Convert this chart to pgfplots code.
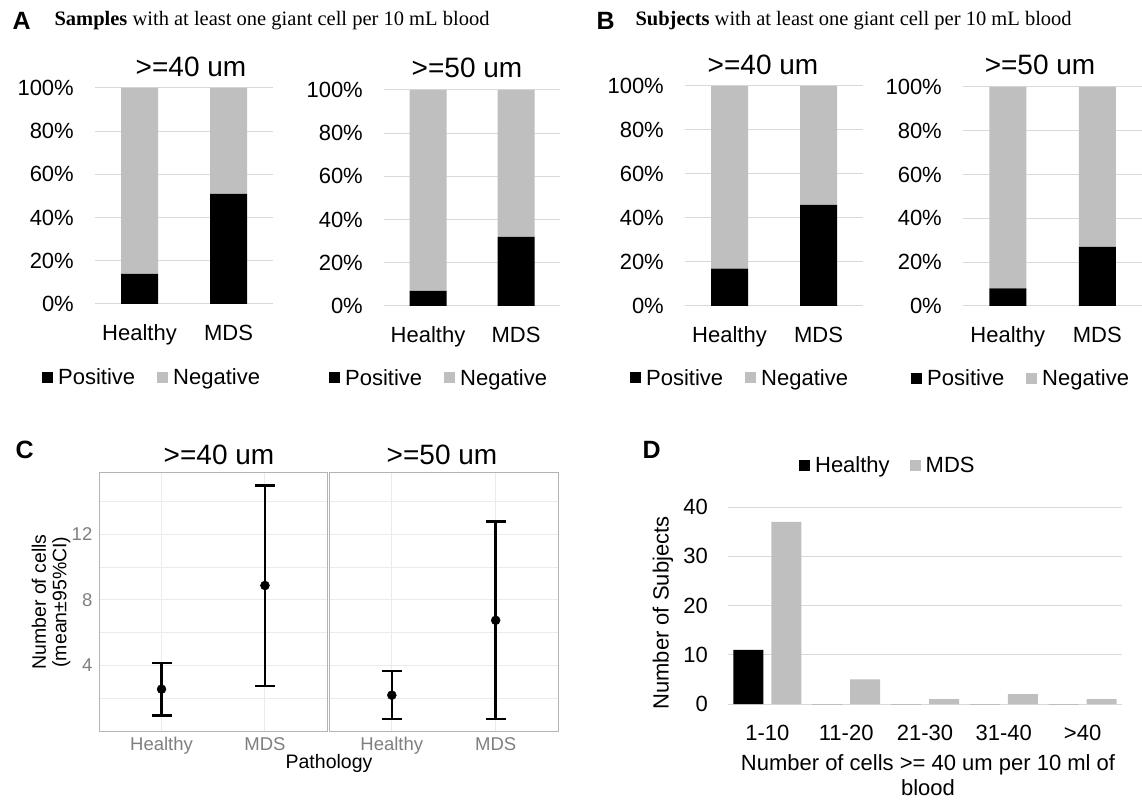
\documentclass[border=0pt]{standalone}
\usepackage{fontspec}
\setmainfont{Liberation Sans}
\newfontfamily\seriffont{Liberation Serif}
\usepackage{pgfplots}
\pgfplotsset{compat=1.18}
\definecolor{barg}{HTML}{BFBFBF}
\definecolor{gridc}{HTML}{D9D9D9}
\definecolor{ggrid}{HTML}{EBEBEB}
\definecolor{ggtext}{HTML}{7F7F7F}
\definecolor{ggborder}{HTML}{B3B3B3}
\newcommand{\fs}[1]{\fontsize{#1}{#1}\selectfont}
\pgfplotsset{
  /pgf/number format/assume math mode=true,
  xlsbar/.style={
    scale only axis, anchor=south west,
    xmin=-0.5, xmax=1.5, ymin=0, ymax=100,
    ybar stacked, bar width=37pt,
    xtick={0,1}, xticklabels={Healthy,MDS},
    ytick={0,20,40,60,80,100},
    yticklabel={\pgfmathprintnumber{\tick}\%},
    ymajorgrids, grid style={draw=gridc, line width=1pt},
    axis line style={draw=none}, major tick length=0pt,
    tick label style={font=\fs{22}, inner sep=0pt},
    yticklabel style={anchor=east, xshift=-21pt},
    xticklabel style={anchor=base, yshift=-37pt},
    legend columns=2,
    legend style={draw=none, fill=none, font=\fs{22}, anchor=west, inner sep=0pt,
      nodes={inner sep=0pt, outer sep=0pt},
      /tikz/every odd column/.append style={column sep=5pt},
      /tikz/every even column/.append style={column sep=22pt, text height=16pt, text depth=4pt}},
    legend image code/.code={\fill[##1] (0pt,-5.5pt) rectangle (11pt,5.5pt);},
  },
  ggfacet/.style={
    scale only axis, anchor=south west,
    xmin=0.4, xmax=2.6, ymin=-0.03, ymax=15.75,
    xtick={1,2}, xticklabels={Healthy,MDS},
    ytick={4,8,12}, minor ytick={2,6,10,14},
    grid=both, major grid style={draw=ggrid, line width=1pt},
    minor grid style={draw=ggrid, line width=0.6pt},
    axis line style={draw=ggborder, line width=1pt}, major tick length=0pt, minor tick length=0pt,
    tick label style={font=\fs{18.5}, text=ggtext, inner sep=0pt},
    yticklabel style={anchor=east, xshift=-7pt},
    xticklabel style={anchor=base, yshift=-19pt},
  },
  ggerr/.style={black, mark=*, mark size=4.5pt, only marks,
    mark options={fill=black, draw=black},
    error bars/.cd, y dir=both, y explicit,
    error bar style={line width=2.6pt, black},
    error mark options={rotate=90, mark size=10pt, line width=2.6pt, black}},
}
\begin{document}
\begin{tikzpicture}
\useasboundingbox (0pt,0pt) rectangle (1142pt,803pt);

% ---------- Panel A ----------
\node[anchor=west, font=\fs{25}\bfseries] at (9pt,782pt) {A};
\node[anchor=west, font=\seriffont\fs{20.5}] at (51pt,782pt) {\textbf{Samples} with at least one giant cell per 10 mL blood};
\node[font=\fs{28}] at (191pt,736pt) {>=40 um};
\node[font=\fs{28}] at (467pt,735pt) {>=50 um};

\begin{axis}[xlsbar, at={(95pt,499pt)}, width=178pt, height=216pt,
  legend style={at={(-0.298,-0.338)}}]
\addplot[fill=black, draw=none] coordinates {(0,14) (1,51)};
\addplot[fill=barg, draw=none] coordinates {(0,86) (1,49)};
\legend{Positive,Negative}
\end{axis}

\begin{axis}[xlsbar, at={(384pt,497pt)}, width=176pt, height=216pt,
  legend style={at={(-0.3125,-0.333)}}]
\addplot[fill=black, draw=none] coordinates {(0,7) (1,32)};
\addplot[fill=barg, draw=none] coordinates {(0,93) (1,68)};
\legend{Positive,Negative}
\end{axis}

% ---------- Panel B ----------
\node[anchor=west, font=\fs{25}\bfseries] at (593pt,782pt) {B};
\node[anchor=west, font=\seriffont\fs{20.5}] at (632pt,782pt) {\textbf{Subjects} with at least one giant cell per 10 mL blood};
\node[font=\fs{28}] at (763pt,738pt) {>=40 um};
\node[font=\fs{28}] at (1040pt,738pt) {>=50 um};

\begin{axis}[xlsbar, at={(685pt,497pt)}, width=178pt, height=220pt,
  legend style={at={(-0.309,-0.327)}}]
\addplot[fill=black, draw=none] coordinates {(0,17) (1,46)};
\addplot[fill=barg, draw=none] coordinates {(0,83) (1,54)};
\legend{Positive,Negative}
\end{axis}

\begin{axis}[xlsbar, at={(963pt,497pt)}, width=179pt, height=219pt,
  legend style={at={(-0.2905,-0.329)}}]
\addplot[fill=black, draw=none] coordinates {(0,8) (1,27)};
\addplot[fill=barg, draw=none] coordinates {(0,92) (1,73)};
\legend{Positive,Negative}
\end{axis}

% ---------- Panel C ----------
\node[anchor=west, font=\fs{25}\bfseries] at (12pt,353pt) {C};
\node[font=\fs{28}] at (219pt,348pt) {>=40 um};
\node[font=\fs{28}] at (442pt,348pt) {>=50 um};
\node[rotate=90, align=center, font=\fs{19.5}, execute at begin node={\baselineskip=20.5pt}] at (51pt,201pt) {Number of cells\\(mean±95\%CI)};
\node[font=\fs{19.5}] at (329pt,40pt) {Pathology};

\begin{axis}[ggfacet, at={(99.5pt,72pt)}, width=227.5pt, height=258pt]
\addplot[ggerr] coordinates {(1,2.53) += (0,1.60) -= (0,1.63)
                             (2,8.87) += (0,6.10) -= (0,6.14)};
\end{axis}

\begin{axis}[ggfacet, at={(329.5pt,72pt)}, width=228.5pt, height=258pt, yticklabels={}]
\addplot[ggerr] coordinates {(1,2.16) += (0,1.47) -= (0,1.46)
                             (2,6.74) += (0,6.03) -= (0,6.04)};
\end{axis}

% ---------- Panel D ----------
\node[anchor=west, font=\fs{25}\bfseries] at (639pt,353pt) {D};
\node[rotate=90, font=\fs{22}] at (663pt,190pt) {Number of Subjects};
\node[align=center, font=\fs{22}, execute at begin node={\baselineskip=25pt}] at (928pt,27.5pt) {Number of cells >= 40 um per 10 ml of\\blood};

\begin{axis}[scale only axis, anchor=south west, at={(728pt,99pt)}, width=394pt, height=197pt,
    xmin=-0.5, xmax=4.5, ymin=0, ymax=40,
    ybar, bar width=30pt,
    xtick={0,1,2,3,4}, xticklabels={1-10,11-20,21-30,31-40,>40},
    ytick={0,10,20,30,40},
    ymajorgrids, grid style={draw=gridc, line width=1pt},
    axis line style={draw=none}, major tick length=0pt,
    tick label style={font=\fs{22}, inner sep=0pt},
    yticklabel style={anchor=east, xshift=-20pt},
    xticklabel style={anchor=base, yshift=-36pt},
    legend columns=2,
    legend style={draw=none, fill=none, font=\fs{22}, anchor=west, inner sep=0pt,
      at={(0.180,1.213)},
      nodes={inner sep=0pt, outer sep=0pt},
      /tikz/every odd column/.append style={column sep=5pt},
      /tikz/every even column/.append style={column sep=20pt, text height=16pt, text depth=4pt}},
    legend image code/.code={\fill[#1] (0pt,-5.5pt) rectangle (11pt,5.5pt);},
  ]
\addplot[fill=black, draw=none, bar shift=-19pt] coordinates {(0,11) (1,0) (2,0) (3,0) (4,0)};
\addplot[fill=barg, draw=none, bar shift=19pt] coordinates {(0,37) (1,5) (2,1) (3,2) (4,1)};
\legend{Healthy,MDS}
\end{axis}
\end{tikzpicture}
\end{document}
